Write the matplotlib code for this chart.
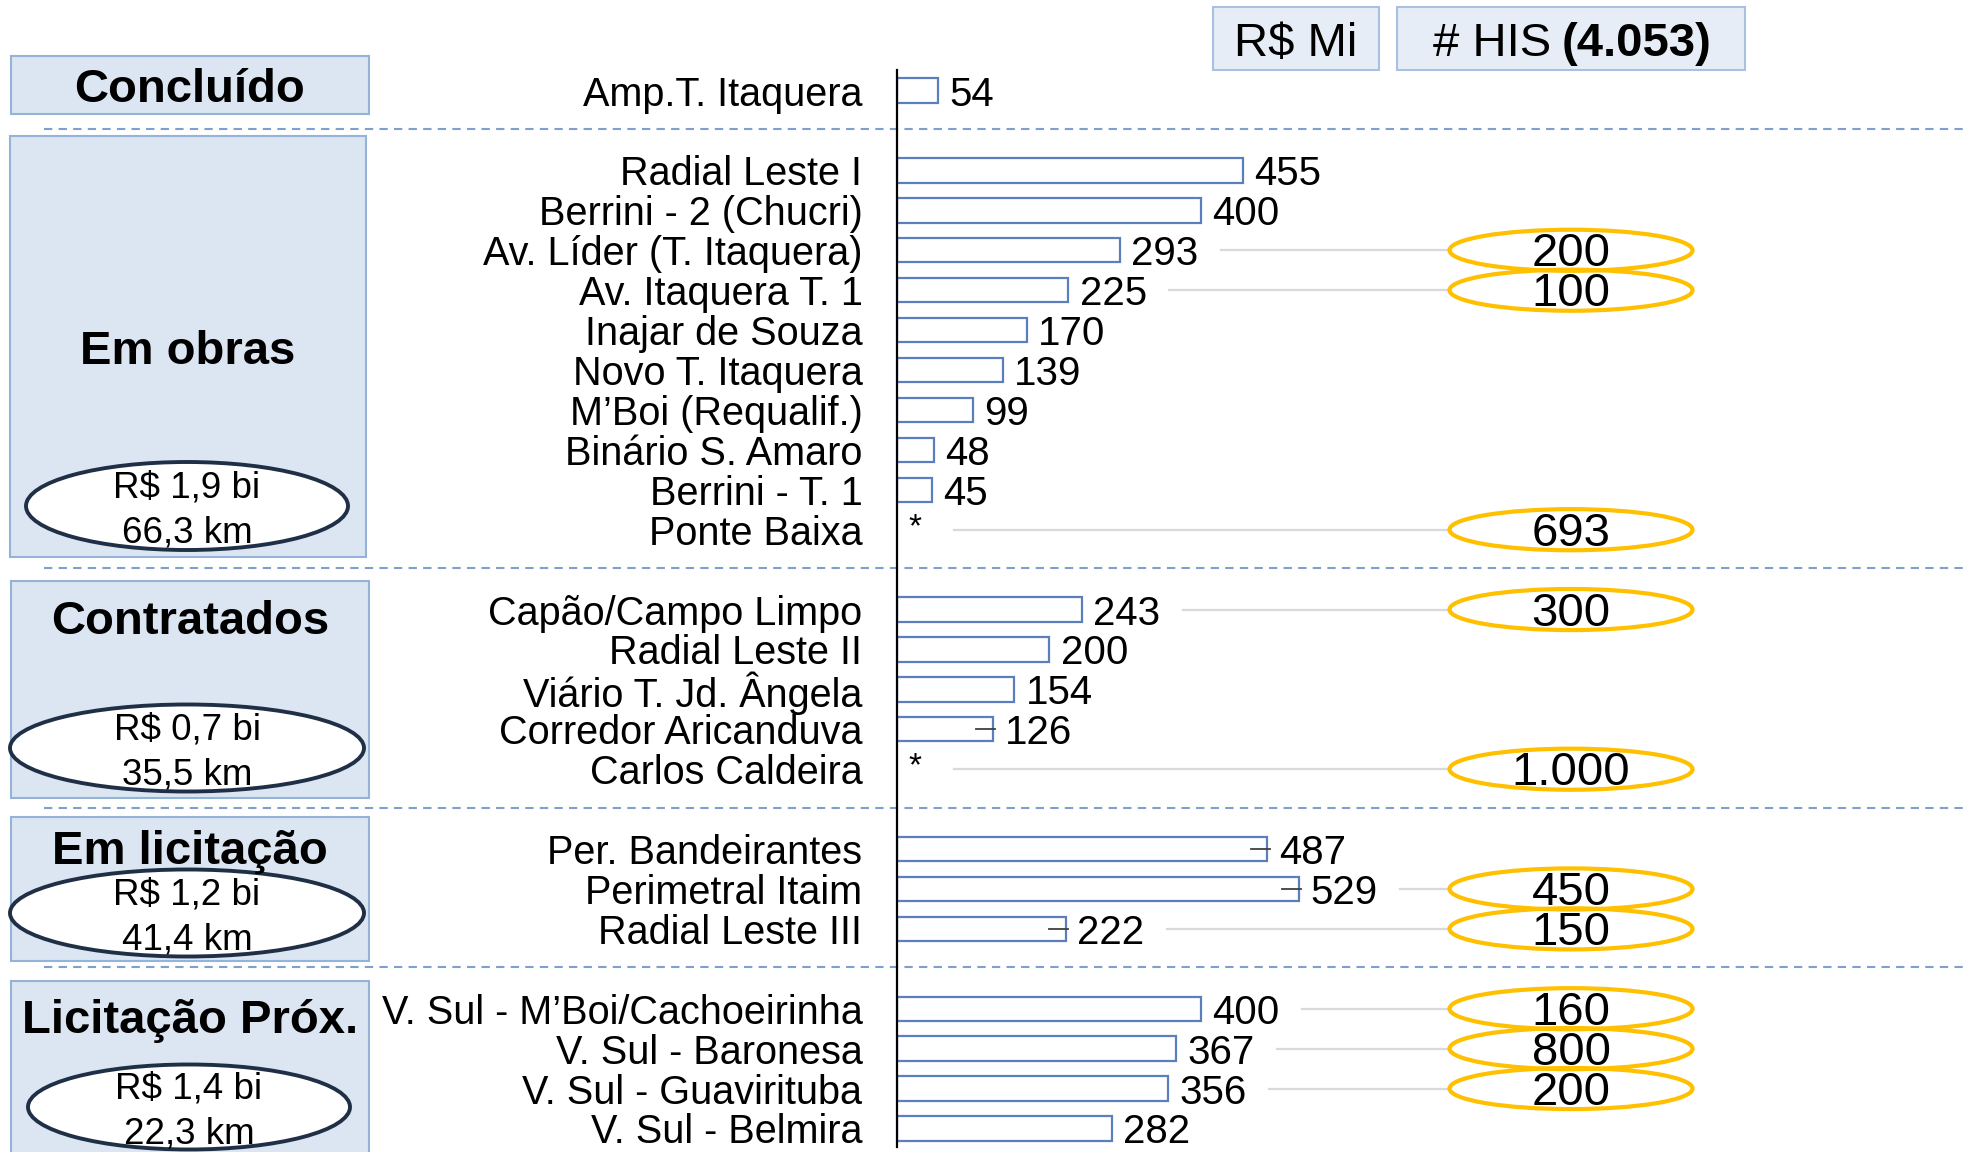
import matplotlib
matplotlib.use("Agg")
import matplotlib.pyplot as plt
from matplotlib.patches import Ellipse, Rectangle
import matplotlib.transforms as mtransforms

plt.rcParams['font.family'] = ['Liberation Sans', 'DejaVu Sans']

# ---- data ----
groups = ['Concluído', 'Em obras', 'Contratados', 'Em licitação', 'Licitação Próx.']
group_cost = ['', 'R$ 1,9 bi', 'R$ 0,7 bi', 'R$ 1,2 bi', 'R$ 1,4 bi']
group_km = ['', '66,3 km', '35,5 km', '41,4 km', '22,3 km']
group_sizes = [1, 10, 5, 3, 4]

projects = ['Amp.T. Itaquera',
            'Radial Leste I', 'Berrini - 2 (Chucri)', 'Av. Líder (T. Itaquera)',
            'Av. Itaquera T. 1', 'Inajar de Souza', 'Novo T. Itaquera',
            'M’Boi (Requalif.)', 'Binário S. Amaro', 'Berrini - T. 1', 'Ponte Baixa',
            'Capão/Campo Limpo', 'Radial Leste II', 'Viário T. Jd. Ângela',
            'Corredor Aricanduva', 'Carlos Caldeira',
            'Per. Bandeirantes', 'Perimetral Itaim', 'Radial Leste III',
            'V. Sul - M’Boi/Cachoeirinha', 'V. Sul - Baronesa',
            'V. Sul - Guavirituba', 'V. Sul - Belmira']
custo = [54,
         455, 400, 293, 225, 170, 139, 99, 48, 45, None,
         243, 200, 154, 126, None,
         487, 529, 222,
         400, 367, 356, 282]
his = [None,
       None, None, 200, 100, None, None, None, None, None, 693,
       300, None, None, None, 1000,
       None, 450, 150,
       160, 800, 200, None]
ticked = ['Corredor Aricanduva', 'Per. Bandeirantes', 'Perimetral Itaim', 'Radial Leste III']

# row positions: one empty row between groups
slots, seps = [], []
pos = 0
for gi, n in enumerate(group_sizes):
    if gi > 0:
        seps.append(pos)
        pos += 1
    for _ in range(n):
        slots.append(pos)
        pos += 1

BAR_EDGE = '#5b7fbd'
BOX_FILL = '#dce6f2'
BOX_EDGE = '#95b3d7'
GOLD = '#ffc000'
NAVY = '#1f2f46'
GRAY = '#d9d9d9'
DY = 0.1   # text nudge (rows)
PY = 4     # text nudge (pixels)

fig = plt.figure(figsize=(19.72, 11.52), dpi=100)

# background layer in pixel coordinates (left panel, headers)
bg = fig.add_axes([0, 0, 1, 1])
bg.set_xlim(0, 1972)
bg.set_ylim(1152, 0)
bg.axis('off')

ax = fig.add_axes([897.4 / 1972, 0, 1 - 897.4 / 1972, 1])
ax.set_xlim(0, 1415)
ax.set_ylim(26.59, -2.27)
ax.axis('off')
ax.patch.set_alpha(0)

# left group boxes
boxes = [(11, 56, 358, 58), (10, 136, 356, 421), (11, 581, 358, 217),
         (11, 817, 358, 144), (11, 981, 358, 190)]
title_y = [86, 348, 618, 848, 1017]
ell = [None, (187, 506, 322, 88), (187, 748, 354, 87), (187, 913, 354, 87), (189, 1107, 322, 85)]
for i, g in enumerate(groups):
    x0, y0, w, h = boxes[i]
    bg.add_patch(Rectangle((x0, y0), w, h, facecolor=BOX_FILL, edgecolor=BOX_EDGE, lw=1.5))
    bg.text(x0 + w / 2, title_y[i] + PY, g, ha='center', va='center', fontsize=34, fontweight='bold')
    if ell[i] is not None:
        cx, cy, ew, eh = ell[i]
        bg.add_patch(Ellipse((cx, cy), ew, eh, facecolor='white', edgecolor=NAVY, lw=2.8))
        bg.text(cx, cy - 22 + PY, group_cost[i], ha='center', va='center', fontsize=26.5)
        bg.text(cx, cy + 23 + PY, group_km[i], ha='center', va='center', fontsize=26.5)

# header boxes
hdr = dict(facecolor='#e6edf6', edgecolor='#a9c0e0', lw=1.5)
bg.add_patch(Rectangle((1213, 7), 166, 63, **hdr))
bg.add_patch(Rectangle((1397, 7), 348, 63, **hdr))
bg.text(1296, 40 + PY, 'R$ Mi', ha='center', va='center', fontsize=34)
bg.text(1551, 40 + PY, '# HIS', ha='right', va='center', fontsize=34)
bg.text(1562, 40 + PY, '(4.053)', ha='left', va='center', fontsize=34, fontweight='bold')

# separators across the whole width
blend = mtransforms.blended_transform_factory(fig.transFigure, ax.transData)
for s in seps:
    ax.plot([44 / 1972, 1968 / 1972], [s - 0.04, s - 0.04], transform=blend, clip_on=False,
            color='#7f9fcf', lw=1.5, ls=(0, (4, 3)))

# axis line
ax.plot([0, 0], [-0.52, 26.46], color='black', lw=1.6, clip_on=False)

for name, y, v, hv in zip(projects, slots, custo, his):
    ax.text(-46, y + DY, name, ha='right', va='center', fontsize=28.5, clip_on=False)
    if v is not None:
        ax.barh(y, v, height=0.61, color='white', edgecolor=BAR_EDGE, lw=1.6)
        ax.text(v + 15, y + DY, str(v), ha='left', va='center', fontsize=29)
        start = v + 133
    else:
        ax.text(14, y - 0.05, '*', ha='left', va='center', fontsize=24)
        start = 74
    if name in ticked:
        ax.plot([v - 22, v + 3], [y, y], color='#404040', lw=1.3)
    if hv is not None:
        ax.plot([start, 727], [y, y], color=GRAY, lw=1.6, zorder=1)
        ax.add_patch(Ellipse((887, y), 320, 1.03, facecolor='none', edgecolor=GOLD, lw=3, zorder=3))
        lbl = f'{hv:,}'.replace(',', '.')
        ax.text(887, y + DY, lbl, ha='center', va='center', fontsize=34, zorder=4)

fig.savefig('out.png', dpi=100)
